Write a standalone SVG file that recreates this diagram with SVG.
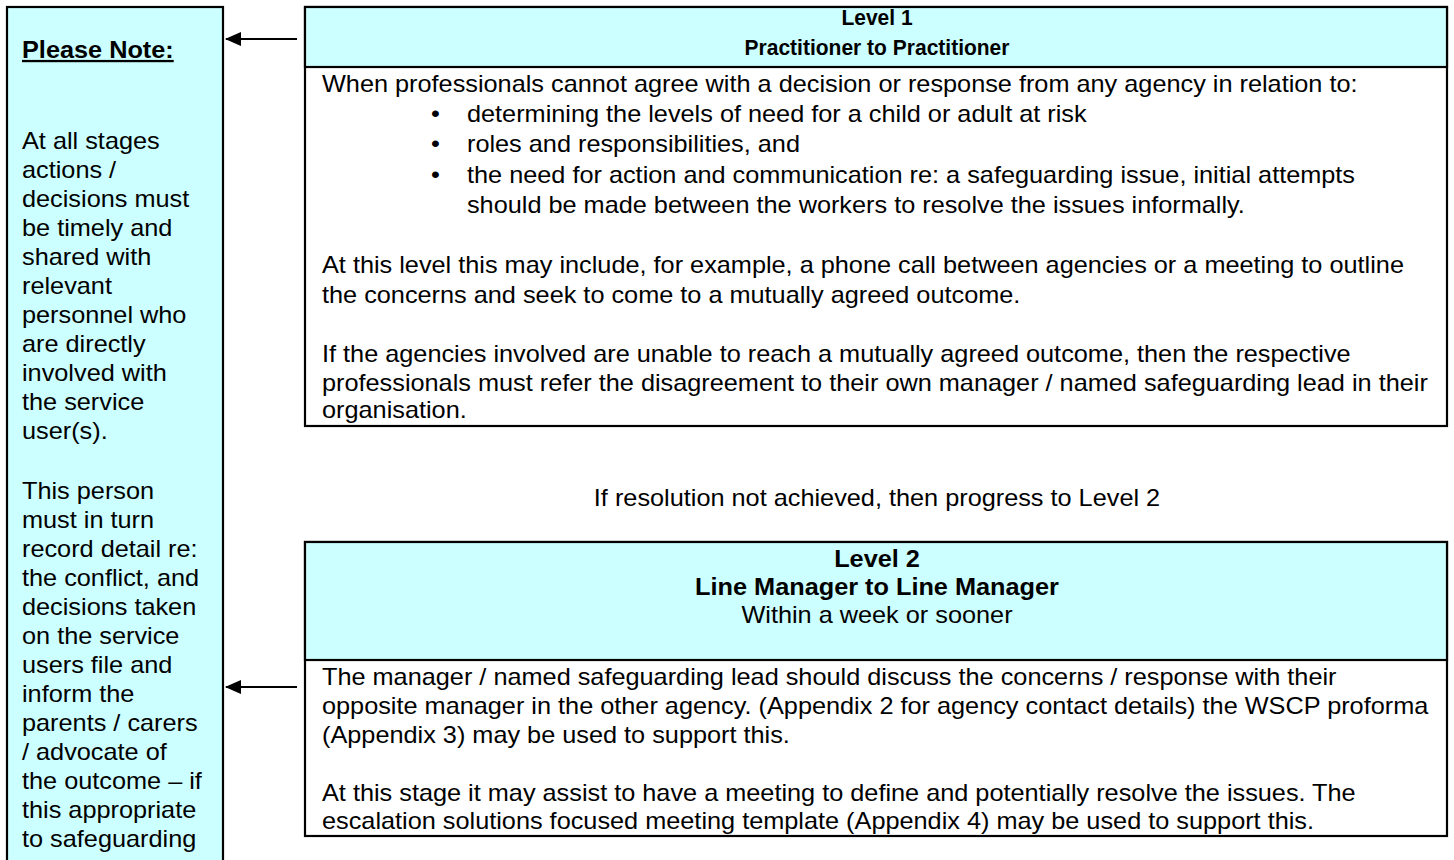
<svg xmlns="http://www.w3.org/2000/svg" width="1454" height="860" viewBox="0 0 1454 860">
<style>
text{font-family:"Liberation Sans",Arial,sans-serif;font-size:23px;fill:#000}
.b{font-weight:bold}
.c{text-anchor:middle}
.h1{font-size:22px}
.fill{fill:#ccffff;stroke:#000;stroke-width:2.2}
.box{fill:#fff;stroke:#000;stroke-width:2.2}
.conn{stroke:#000;stroke-width:2.2;fill:none}
</style>
<defs>
<marker id="ah" markerWidth="16" markerHeight="14" refX="15" refY="7" orient="auto" markerUnits="userSpaceOnUse">
<path d="M0,0 L16,7 L0,14 Z" fill="#000"/>
</marker>
</defs>
<g id="note">
<rect class="fill" x="7" y="7" width="216" height="860"/>
<g transform="matrix(1.1,0,0,1,-2.2,0)">
<text x="22" y="58" class="b" text-decoration="underline">Please Note:</text>
<text x="22" y="149">At all stages</text>
<text x="22" y="178">actions /</text>
<text x="22" y="207">decisions must</text>
<text x="22" y="236">be timely and</text>
<text x="22" y="265">shared with</text>
<text x="22" y="294">relevant</text>
<text x="22" y="323">personnel who</text>
<text x="22" y="352">are directly</text>
<text x="22" y="381">involved with</text>
<text x="22" y="410">the service</text>
<text x="22" y="439">user(s).</text>
<text x="22" y="499">This person</text>
<text x="22" y="528">must in turn</text>
<text x="22" y="557">record detail re:</text>
<text x="22" y="586">the conflict, and</text>
<text x="22" y="615">decisions taken</text>
<text x="22" y="644">on the service</text>
<text x="22" y="673">users file and</text>
<text x="22" y="702">inform the</text>
<text x="22" y="731">parents / carers</text>
<text x="22" y="760">/ advocate of</text>
<text x="22" y="789">the outcome – if</text>
<text x="22" y="818">this appropriate</text>
<text x="22" y="847">to safeguarding</text>
</g>
</g>
<g id="level1">
<rect class="box" x="305" y="7" width="1142" height="419"/>
<rect class="fill" x="305" y="7" width="1142" height="60"/>
<g transform="matrix(0.955,0,0,1,39.5,0)">
<text x="877" y="25" class="b c h1">Level 1</text>
<text x="877" y="55" class="b c h1">Practitioner to Practitioner</text>
</g>
<g transform="matrix(1.1,0,0,1,-32.2,0)">
<text x="322" y="92">When professionals cannot agree with a decision or response from any agency in relation to:</text>
<text x="421" y="122">•</text>
<text x="453.8" y="122">determining the levels of need for a child or adult at risk</text>
<text x="421" y="152.5">•</text>
<text x="453.8" y="152.5">roles and responsibilities, and</text>
<text x="421" y="183">•</text>
<text x="453.8" y="183">the need for action and communication re: a safeguarding issue, initial attempts</text>
<text x="453.8" y="213">should be made between the workers to resolve the issues informally.</text>
<text x="322" y="273">At this level this may include, for example, a phone call between agencies or a meeting to outline</text>
<text x="322" y="303">the concerns and seek to come to a mutually agreed outcome.</text>
<text x="322" y="362.5">If the agencies involved are unable to reach a mutually agreed outcome, then the respective</text>
<text x="322" y="391.5">professionals must refer the disagreement to their own manager / named safeguarding lead in their</text>
<text x="322" y="418">organisation.</text>
</g>
</g>
<g id="progress">
<g transform="matrix(1.1,0,0,1,-87.7,0)">
<text x="877" y="506" class="c">If resolution not achieved, then progress to Level 2</text>
</g>
</g>
<g id="level2">
<rect class="box" x="305" y="542" width="1142" height="294"/>
<rect class="fill" x="305" y="542" width="1142" height="118"/>
<g transform="matrix(1.1,0,0,1,-87.7,0)">
<text x="877" y="567" class="b c">Level 2</text>
<text x="877" y="595" class="b c">Line Manager to Line Manager</text>
<text x="877" y="623" class="c">Within a week or sooner</text>
</g>
<g transform="matrix(1.1,0,0,1,-32.2,0)">
<text x="322" y="685">The manager / named safeguarding lead should discuss the concerns / response with their</text>
<text x="322" y="714">opposite manager in the other agency. (Appendix 2 for agency contact details) the WSCP proforma</text>
<text x="322" y="743">(Appendix 3) may be used to support this.</text>
<text x="322" y="801">At this stage it may assist to have a meeting to define and potentially resolve the issues. The</text>
<text x="322" y="829">escalation solutions focused meeting template (Appendix 4) may be used to support this.</text>
</g>
</g>
<g id="connectors">
<line class="conn" x1="297" y1="39" x2="226" y2="39" marker-end="url(#ah)"/>
<line class="conn" x1="297" y1="687" x2="226" y2="687" marker-end="url(#ah)"/>
</g>
</svg>
